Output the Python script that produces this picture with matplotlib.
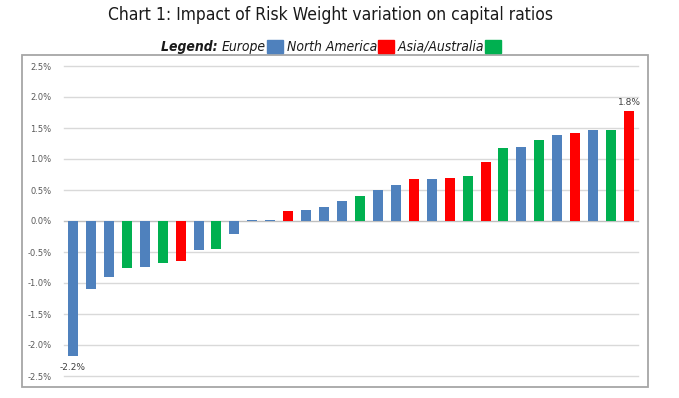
import matplotlib
matplotlib.use("Agg")
import matplotlib.pyplot as plt
from matplotlib.patches import Rectangle
from matplotlib import font_manager

# valori (in %)
regions = ["EU", "EU", "EU", "AS", "EU", "AS", "NA", "EU", "AS", "EU",
           "EU", "EU", "NA", "EU", "EU", "EU", "AS", "EU", "EU", "NA",
           "EU", "NA", "AS", "NA", "AS", "EU", "AS", "EU", "NA", "EU",
           "AS", "NA"]
impact = [-2.18, -1.10, -0.91, -0.76, -0.74, -0.67, -0.64, -0.46, -0.45, -0.21,
          0.01, 0.02, 0.16, 0.17, 0.23, 0.32, 0.41, 0.50, 0.58, 0.67,
          0.68, 0.69, 0.72, 0.95, 1.18, 1.20, 1.30, 1.38, 1.415, 1.46,
          1.46, 1.77]
region_colors = {"EU": "#4F81BD", "NA": "#FF0000", "AS": "#00B050"}
yticks = [-2.5, -2.0, -1.5, -1.0, -0.5, 0.0, 0.5, 1.0, 1.5, 2.0, 2.5]

W, H = 679, 398
fig = plt.figure(figsize=(W / 100, H / 100), dpi=100)

def fx(px):
    return px / W

def fy(py):
    return 1 - py / H

# cornice grigia del grafico
fig.patches.append(Rectangle((fx(22), fy(387)), fx(648) - fx(22), fy(55) - fy(387),
                             transform=fig.transFigure, fill=False,
                             edgecolor="#A6A6A6", linewidth=1.3))

ax = fig.add_axes([fx(64), fy(376), fx(638) - fx(64), fy(66) - fy(376)])
x = list(range(len(impact)))
ax.bar(x, impact, width=0.56, color=[region_colors[r] for r in regions], zorder=3)

ax.set_xlim(-0.5, len(impact) - 0.5)
ax.set_ylim(-2.5, 2.5)
ax.set_yticks(yticks)
ax.set_yticklabels([f"{v:.1f}%" for v in yticks], fontsize=6, color="#595959")
ax.set_xticks([])
for v in yticks:
    ax.axhline(v, color="#BFBFBF" if v == 0 else "#D9D9D9", linewidth=1,
               zorder=1, clip_on=False)
for s in ax.spines.values():
    s.set_visible(False)
ax.tick_params(axis="y", length=0, pad=9)

# etichette min e max
i_min = impact.index(min(impact))
i_max = impact.index(max(impact))
ax.annotate(f"{min(impact):.1f}%", (i_min, min(impact)), xytext=(0, -5),
            textcoords="offset points", ha="center", va="top",
            fontsize=6.5, color="#404040")
ax.annotate(f"{max(impact):.1f}%", (i_max, max(impact)), xytext=(0, 3),
            textcoords="offset points", ha="center", va="bottom",
            fontsize=6.5, color="#404040")

# font stretto se disponibile
names = {f.name for f in font_manager.fontManager.ttflist}
fam = ["Liberation Sans Narrow", "DejaVu Sans"] if "Liberation Sans Narrow" in names else ["DejaVu Sans"]
fig.text(fx(330), fy(15), "Chart 1: Impact of Risk Weight variation on capital ratios",
         ha="center", va="center", fontsize=12.5, family=fam, stretch="condensed",
         color="#1a1a1a")

# legenda costruita a mano
fig.canvas.draw()
renderer = fig.canvas.get_renderer()
cur = 161
ly = 47
items = [("Legend: ", "bold", None), ("Europe", "normal", "EU"),
         (" North America", "normal", "NA"), (" Asia/Australia", "normal", "AS")]
for label, weight, reg in items:
    t = fig.text(fx(cur), fy(ly), label, ha="left", va="center", fontsize=10,
                 style="italic", weight=weight, family=fam, stretch="condensed",
                 color="#1a1a1a")
    bb = t.get_window_extent(renderer)
    cur += bb.width
    if reg is not None:
        fig.patches.append(Rectangle((fx(cur + 1), fy(53)), fx(16), fy(40) - fy(53),
                                     transform=fig.transFigure,
                                     color=region_colors[reg]))
        cur += 17

fig.savefig("out.png", dpi=100)
